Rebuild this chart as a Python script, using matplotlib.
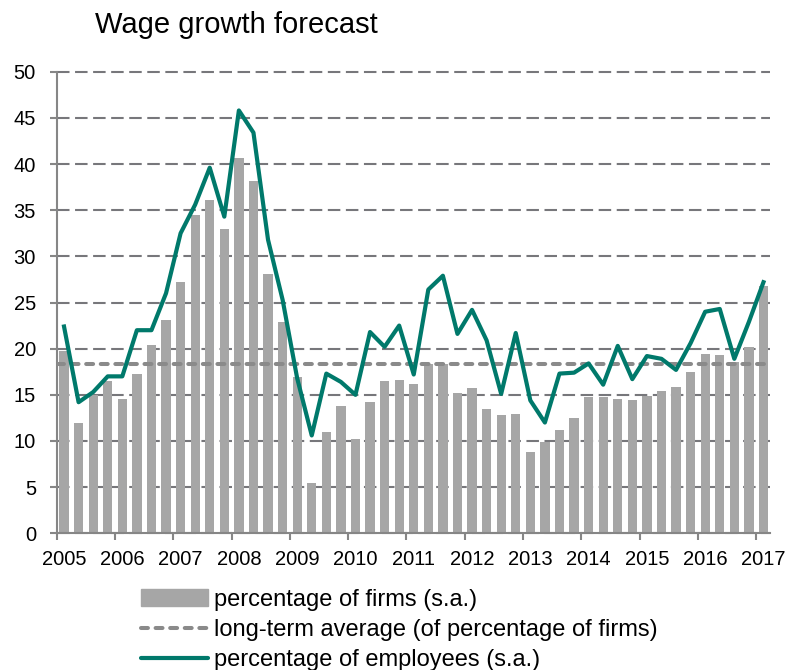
import numpy as np
import matplotlib
matplotlib.use("Agg")
import matplotlib.pyplot as plt
from matplotlib.patches import Patch
from matplotlib.lines import Line2D

plt.rcParams['font.family'] = ['Liberation Sans', 'DejaVu Sans']
plt.rcParams['lines.scale_dashes'] = False

# quarterly series, 2005 Q1 .. 2017 Q1
years = list(range(2005, 2018))
firms = [19.8, 12.0, 15.0, 16.5,
         14.5, 17.3, 20.4, 23.1,
         27.2, 34.5, 36.1, 33.0,
         40.6, 38.2, 28.1, 22.9,
         16.9, 5.4, 11.0, 13.8,
         10.2, 14.2, 16.5, 16.6,
         16.2, 18.3, 18.3, 15.2,
         15.7, 13.5, 12.8, 12.9,
         8.8, 9.9, 11.2, 12.5,
         14.8, 14.8, 14.6, 14.4,
         14.9, 15.4, 15.9, 17.5,
         19.4, 19.3, 18.6, 20.2,
         26.8]
employees = [22.4, 14.2, 15.3, 17.0,
             17.0, 22.0, 22.0, 26.0,
             32.5, 35.6, 39.6, 34.3,
             45.8, 43.4, 31.8, 25.3,
             16.8, 10.6, 17.3, 16.4,
             15.0, 21.8, 20.2, 22.5,
             17.2, 26.4, 27.9, 21.6,
             24.2, 20.9, 15.1, 21.7,
             14.4, 12.0, 17.3, 17.4,
             18.4, 16.1, 20.3, 16.7,
             19.2, 18.9, 17.7, 20.6,
             24.0, 24.3, 18.9, 22.9,
             27.2]
long_term_avg = 18.3

labels = ['percentage of firms (s.a.)',
          'long-term average (of percentage of firms)',
          'percentage of employees (s.a.)']

bar_col = '#a6a6a6'
teal = '#00796b'
grid_col = '#77777b'
avg_col = '#8a8a8a'

n = len(firms)
x = 2005 + (np.arange(n) + 0.5) / 4.0

fig = plt.figure(figsize=(7.88, 6.70), dpi=100)
ax = fig.add_axes([0.072, 0.204, 0.905, 0.689])

ax.bar(x, firms, width=0.16, color=bar_col, zorder=2)
ax.axhline(long_term_avg, color=avg_col, lw=2.9, dash_capstyle='round',
           linestyle=(0, (5, 5.5)), zorder=3)
ax.plot(x, employees, color=teal, lw=3.0, solid_joinstyle='round', zorder=4)

ax.set_xlim(2005, 2017.235)
ax.set_ylim(0, 50)
ax.set_yticks(np.arange(0, 51, 5))
ax.yaxis.grid(True, color=grid_col, lw=1.5, linestyle=(0, (9, 4)), zorder=1)
ax.set_axisbelow(True)
for gl in ax.get_ygridlines():
    gl.set_clip_on(False)

# year ticks on the boundaries, labels under the first quarter
ax.set_xticks(years)
ax.set_xticklabels([])
ax.set_xticks([y + 0.125 for y in years], minor=True)
ax.set_xticklabels([str(y) for y in years], minor=True)
ax.tick_params(axis='x', which='major', direction='out', length=5,
               width=1.5, color='#868686')
ax.tick_params(axis='x', which='minor', length=0, pad=12, labelsize=14.5)
ax.tick_params(axis='y', direction='out', length=5, width=1.5,
               color='#868686', pad=10, labelsize=14.5)

for s in ['top', 'right']:
    ax.spines[s].set_visible(False)
for s in ['left', 'bottom']:
    ax.spines[s].set_color('#868686')
    ax.spines[s].set_linewidth(1.5)

fig.text(95 / 788, 1 - 33 / 670, 'Wage growth forecast', fontsize=21,
         va='baseline', ha='left')

handles = [Patch(color=bar_col),
           Line2D([], [], color=avg_col, lw=2.9, dash_capstyle='round',
                  linestyle=(0, (5, 5.5))),
           Line2D([], [], color=teal, lw=3.0, solid_capstyle='round')]
fig.legend(handles, labels, loc='upper left',
           bbox_to_anchor=(141 / 788, 1 - 589 / 670), frameon=False,
           fontsize=17, handlelength=2.85, handletextpad=0.25,
           labelspacing=0.34, borderpad=0, borderaxespad=0)

fig.savefig('out.png', dpi=100)
